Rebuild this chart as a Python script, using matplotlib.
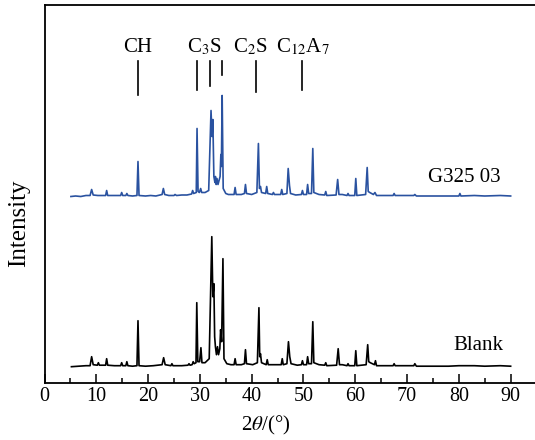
import matplotlib.pyplot as plt
import numpy as np

plt.rcParams['font.family'] = 'Liberation Serif'
plt.rcParams['mathtext.fontset'] = 'stix'

# XRD patterns, vertices (2theta, intensity above each trace's own baseline)
tt_g325 = [5.1, 6.0, 7.0, 8.0, 8.8, 9.1, 9.4, 10.3, 11.0, 11.8, 12.0, 12.2, 13.5, 14.7, 14.9, 15.1,
           15.7, 15.9, 16.1, 17.0, 17.85, 18.05, 18.25, 19.5, 20.5, 21.5, 22.7, 22.95, 23.2, 24.0,
           25.0, 25.2, 25.5, 26.5, 27.5, 28.4, 28.6, 28.8, 29.3, 29.45, 29.65, 29.9, 30.15, 30.35,
           31.0, 31.7, 32.15, 32.35, 32.5, 32.7, 32.9, 33.0, 33.15, 33.3, 33.5, 33.9, 34.05, 34.15,
           34.3, 34.5, 35.0, 35.5, 36.6, 36.8, 37.0, 38.0, 38.6, 38.8, 39.0, 40.0, 41.0, 41.3, 41.5,
           41.7, 41.9, 42.7, 42.9, 43.1, 44.0, 44.2, 44.4, 45.6, 45.8, 46.0, 46.8, 47.05, 47.3, 47.5,
           48.5, 49.6, 49.8, 50.0, 50.6, 50.8, 51.0, 51.55, 51.8, 52.0, 52.5, 53.0, 54.1, 54.3, 54.5,
           56.3, 56.6, 56.85, 57.5, 58.4, 58.6, 58.8, 59.9, 60.1, 60.3, 62.0, 62.3, 62.5, 62.8, 63.5,
           63.8, 64.1, 65.5, 67.3, 67.5, 67.7, 69.5, 71.3, 71.5, 71.8, 75.0, 78.0, 80.0, 80.2, 80.4,
           83.0, 85.0, 88.0, 90.0]
i_g325 = [0, 0.5, 0, 1, 1, 7, 1.5, 1, 1, 1, 6, 1, 1, 1, 4, 1,
          1, 3, 1, 0.5, 1, 35, 1, 0.5, 1, 0.5, 2, 8, 2, 1,
          1, 2, 1, 1.5, 1.5, 2.5, 6, 3, 4, 68, 5, 4, 8, 4,
          4, 6, 86, 60, 77, 20, 14, 20, 12, 18, 12, 20, 42, 30,
          101, 8, 3, 2, 2, 9, 2, 2, 3, 12, 3, 2, 4, 53, 8,
          10, 4, 3, 10, 3, 2, 4, 2, 2, 7, 2, 3, 28, 11, 3,
          1.5, 2, 6, 2, 2, 12, 3, 3, 48, 4, 3, 2, 1.5, 5, 1,
          1.5, 17, 2, 2, 1, 3, 1, 1, 18, 1, 2, 29, 5, 4, 2,
          4, 1, 1, 1, 3, 1, 1, 1, 2, 0.5, 0.5, 0.5, 0.5, 3, 0.5,
          1, 0.5, 1, 0.5]

tt_blank = [5.2, 6.5, 8.0, 8.8, 9.1, 9.4, 10.2, 10.4, 10.6, 11.8, 12.0, 12.2, 13.5, 14.7, 14.9, 15.1,
            15.7, 15.9, 16.1, 17.0, 17.85, 18.05, 18.25, 19.5, 21.0, 22.7, 23.0, 23.3, 24.4, 24.6,
            24.8, 26.5, 27.7, 27.9, 28.1, 28.5, 28.7, 28.9, 29.25, 29.4, 29.6, 29.95, 30.2, 30.4,
            31.0, 31.8, 32.3, 32.5, 32.7, 32.85, 33.0, 33.2, 33.4, 33.6, 33.85, 34.0, 34.2, 34.45,
            34.65, 35.2, 36.0, 36.6, 36.8, 37.0, 38.0, 38.6, 38.8, 39.0, 40.2, 41.1, 41.4, 41.55,
            41.7, 41.9, 42.8, 43.0, 43.2, 44.5, 45.7, 45.9, 46.1, 46.8, 47.1, 47.35, 47.6, 48.8,
            49.6, 49.8, 50.0, 50.6, 50.8, 51.0, 51.55, 51.8, 52.0, 53.0, 54.1, 54.3, 54.5, 56.4,
            56.7, 56.95, 57.5, 58.4, 58.6, 58.8, 59.9, 60.1, 60.3, 62.1, 62.4, 62.6, 62.9, 63.7,
            63.9, 64.1, 65.5, 67.3, 67.5, 67.7, 69.5, 71.3, 71.5, 71.8, 75.0, 78.0, 80.0, 83.0,
            85.0, 88.0, 90.0]
i_blank = [0, 0.5, 1, 1, 10, 2, 1.5, 4, 1.5, 1.5, 8, 1.5, 1, 1, 4, 1,
           1, 5, 1, 0.5, 1, 46, 1, 0.5, 1, 2, 9, 2, 1, 3,
           1, 1, 1.5, 3, 1.5, 2, 5, 3, 4, 64, 5, 5, 19, 4,
           4, 8, 130, 70, 83, 30, 20, 12, 20, 12, 18, 37, 25, 108,
           8, 3, 2, 2, 8, 2, 2, 3, 17, 3, 2, 4, 59, 10,
           13, 4, 2, 7, 2, 2, 2, 8, 2, 3, 25, 10, 3, 1.5,
           2, 6, 2, 2, 10, 3, 3, 45, 4, 2, 1.5, 4, 1, 1.5,
           18, 2, 2, 1, 3, 1, 1, 16, 1, 2, 22, 5, 4, 2,
           6, 1, 1, 1, 3, 1, 1, 1, 3, 0.5, 0.5, 0.5, 1, 1,
           0.5, 1, 0.5]

off_g325 = 186.5
off_blank = 16.3

# phase markers: label, label position, marker positions
phases = ['CH', r'C$_3$S', r'C$_2$S', r'C$_{12}$A$_7$']
phase_label_x = [17.9, 30.8, 39.7, 49.9]
marker_x = [18.0, 29.4, 31.95, 34.3, 40.8, 49.7]
marker_bottom = [288, 293, 297, 308, 291, 293]

fig = plt.figure(figsize=(5.35, 4.4), dpi=100)
ax = fig.add_axes([44.5 / 535, 57 / 440, 1 - 44.5 / 535, 378 / 440])

ax.plot(tt_g325, np.array(i_g325) + off_g325, color='#2a52a0', lw=1.2)
ax.plot(tt_blank, np.array(i_blank) + off_blank, color='black', lw=1.2)

ax.text(81.0, 206, 'G325 03', fontsize=15, ha='center', va='center')
ax.text(83.7, 38, 'Blank', fontsize=15, ha='center', va='center')

for lab, x in zip(phases, phase_label_x):
    ax.text(x, 331, lab, fontsize=15, ha='center', va='baseline')
for x, yb in zip(marker_x, marker_bottom):
    ax.plot([x, x], [322, yb], color='black', lw=1.2)

ax.set_xlim(0, 94.7)
ax.set_ylim(0, 378)
ax.set_xticks(range(0, 91, 10))
ax.set_xticks(range(5, 91, 10), minor=True)
ax.set_yticks([])
ax.tick_params(axis='x', which='major', direction='in', length=6.5, width=1.1, labelsize=14.5, pad=3)
ax.tick_params(axis='x', which='minor', direction='in', length=3.5, width=1.1)
ax.spines['right'].set_visible(False)
for s in ['left', 'top', 'bottom']:
    ax.spines[s].set_linewidth(1.3)

ax.set_xlabel(r'2$\theta$/(°)', fontsize=15)
ax.xaxis.set_label_coords(0.4516, -0.083)
ax.set_ylabel('Intensity', fontsize=18)
ax.yaxis.set_label_coords(-0.030, 0.423)

fig.savefig('out.png', dpi=100)
